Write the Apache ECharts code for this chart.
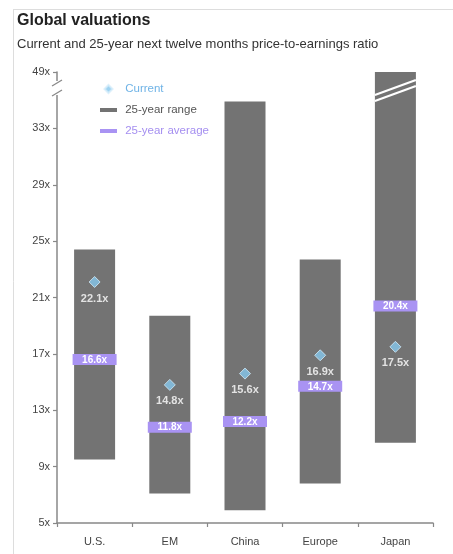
<!DOCTYPE html>
<html>
<head>
<meta charset="utf-8">
<script src="https://cdn.jsdelivr.net/npm/echarts@6/dist/echarts.min.js"></script>
<style>
html,body{margin:0;padding:0;background:#fff;}
#chart{width:453px;height:554px;}
</style>
</head>
<body>
<div id="chart"></div>
<script>
// ---- data ----
const categories = ['U.S.', 'EM', 'China', 'Europe', 'Japan'];
const rangeLow   = [9.5, 7.1, 5.9, 7.8, 10.7];
const rangeHigh  = [24.4, 19.7, 34.9, 23.7, 37];   // Japan exceeds the broken axis top (49x)
const currentVals = [22.1, 14.8, 15.6, 16.9, 17.5];
const averageVals = [16.6, 11.8, 12.2, 14.7, 20.4];
const yTickValues = [5, 9, 13, 17, 21, 25, 29, 33, 37];
const yTickLabels = ['5x', '9x', '13x', '17x', '21x', '25x', '29x', '33x', '49x'];
const axisTop = 37; // position where the broken axis shows 49x

const FONT = '"Liberation Sans", Arial, sans-serif';
const BAR_COLOR = '#737373';
const AVG_COLOR = '#a993f3';
const CUR_COLOR = '#86c8ee';

const chart = echarts.init(document.getElementById('chart'), null, {renderer: 'canvas'});

const rangeData = categories.map((c, i) => [i, rangeLow[i], rangeHigh[i]]);
const avgData = categories.map((c, i) => [i, averageVals[i]]);
const curData = categories.map((c, i) => [i, currentVals[i]]);

function renderRange(params, api) {
  const idx = api.value(0);
  const lo = api.coord([idx, api.value(1)]);
  const hi = api.coord([idx, api.value(2)]);
  const w = 41;
  const children = [{
    type: 'rect',
    shape: {x: lo[0] - w / 2, y: hi[1], width: w, height: lo[1] - hi[1]},
    style: {fill: BAR_COLOR}
  }];
  if (api.value(2) >= axisTop) {
    // break marks on the bar that runs off the axis
    const x0 = lo[0] - w / 2, x1 = lo[0] + w / 2;
    [[23, 8], [29, 14]].forEach(function (o) {
      children.push({
        type: 'line',
        shape: {x1: x0, y1: hi[1] + o[0], x2: x1, y2: hi[1] + o[1]},
        style: {stroke: '#fff', lineWidth: 2.2}
      });
    });
  }
  return {type: 'group', children: children};
}

function renderAvg(params, api) {
  const idx = api.value(0);
  const p = api.coord([idx, api.value(1)]);
  const w = 44, h = 11;
  return {
    type: 'group',
    children: [{
      type: 'rect',
      shape: {x: p[0] - w / 2, y: p[1] - h / 2, width: w, height: h},
      style: {fill: AVG_COLOR}
    }, {
      type: 'text',
      x: p[0], y: p[1] + 0.5,
      style: {
        text: api.value(1).toFixed(1) + 'x',
        fill: '#fff', font: 'bold 10px ' + FONT,
        align: 'center', verticalAlign: 'middle'
      }
    }]
  };
}

function renderAxisBreak(params, api) {
  const cs = params.coordSys;
  const x = cs.x, top = cs.y;
  return {
    type: 'group',
    children: [{
      type: 'rect',
      shape: {x: x - 3, y: top + 9, width: 6, height: 14},
      style: {fill: '#fff'}
    }, {
      type: 'line',
      shape: {x1: x - 5, y1: top + 14, x2: x + 5, y2: top + 8},
      style: {stroke: '#888', lineWidth: 1.3}
    }, {
      type: 'line',
      shape: {x1: x - 5, y1: top + 24, x2: x + 5, y2: top + 18},
      style: {stroke: '#888', lineWidth: 1.3}
    }]
  };
}

const option = {
  backgroundColor: '#fff',
  animation: false,
  textStyle: {fontFamily: FONT},
  title: [{
    text: 'Global valuations',
    left: 17, top: 13, padding: 0,
    textStyle: {fontSize: 16, fontWeight: 'bold', color: '#222', fontFamily: FONT}
  }, {
    text: 'Current and 25-year next twelve months price-to-earnings ratio',
    left: 17, top: 38, padding: 0,
    textStyle: {fontSize: 13, fontWeight: 'normal', color: '#333', fontFamily: FONT}
  }],
  graphic: [{
    type: 'line', shape: {x1: 13, y1: 9.5, x2: 453, y2: 9.5},
    style: {stroke: '#dddddd', lineWidth: 1}, silent: true
  }, {
    type: 'line', shape: {x1: 13.5, y1: 9, x2: 13.5, y2: 554},
    style: {stroke: '#dddddd', lineWidth: 1}, silent: true
  }],
  legend: {
    orient: 'vertical',
    left: 95, top: 78,
    itemWidth: 17, itemHeight: 8,
    itemGap: 9,
    formatter: ' {name}',
    textStyle: {fontSize: 11.5, fontFamily: FONT},
    data: [
      {name: 'Current', icon: 'path://M4,0L8,4L4,8L0,4Z', itemStyle: {color: CUR_COLOR}, textStyle: {color: '#6fb3e6'}},
      {name: '25-year range', icon: 'path://M0,0H17V4H0Z', itemStyle: {color: BAR_COLOR}, textStyle: {color: '#555'}},
      {name: '25-year average', icon: 'path://M0,0H17V4H0Z', itemStyle: {color: AVG_COLOR}, textStyle: {color: '#a58ff0'}}
    ]
  },
  grid: {left: 57, right: 20, top: 72, bottom: 31, containLabel: false},
  xAxis: {
    type: 'category',
    data: categories,
    axisLine: {lineStyle: {color: '#888', width: 1.5}},
    axisTick: {show: true, length: 4, lineStyle: {color: '#888', width: 1.2}},
    axisLabel: {color: '#444', fontSize: 11, margin: 13, fontFamily: FONT}
  },
  yAxis: {
    type: 'value',
    min: 5, max: axisTop,
    splitLine: {show: false},
    axisLine: {show: true, lineStyle: {color: '#888', width: 1.5}},
    axisTick: {show: true, length: 4, customValues: yTickValues, lineStyle: {color: '#888', width: 1.2}},
    axisLabel: {
      customValues: yTickValues,
      color: '#444', fontSize: 11, margin: 7, fontFamily: FONT,
      formatter: function (v) {
        const i = yTickValues.indexOf(v);
        return i >= 0 ? yTickLabels[i] : '';
      }
    }
  },
  series: [{
    name: '25-year range',
    type: 'custom',
    renderItem: renderRange,
    encode: {x: 0, y: [1, 2]},
    data: rangeData,
    itemStyle: {color: BAR_COLOR},
    z: 2
  }, {
    name: '25-year average',
    type: 'custom',
    renderItem: renderAvg,
    encode: {x: 0, y: 1},
    data: avgData,
    itemStyle: {color: AVG_COLOR},
    z: 3
  }, {
    name: 'Current',
    type: 'scatter',
    data: curData,
    symbol: 'diamond',
    symbolSize: 11,
    itemStyle: {color: CUR_COLOR, borderColor: '#d4ecfa', borderWidth: 1},
    label: {
      show: true, position: 'bottom', distance: 5,
      color: '#fff', fontWeight: 'bold', fontSize: 11, fontFamily: FONT,
      formatter: function (p) { return p.value[1].toFixed(1) + 'x'; }
    },
    z: 4
  }, {
    name: 'axisBreak',
    type: 'custom',
    renderItem: renderAxisBreak,
    data: [[0, axisTop]],
    silent: true,
    z: 5
  }]
};

chart.setOption(option);
</script>
</body>
</html>
